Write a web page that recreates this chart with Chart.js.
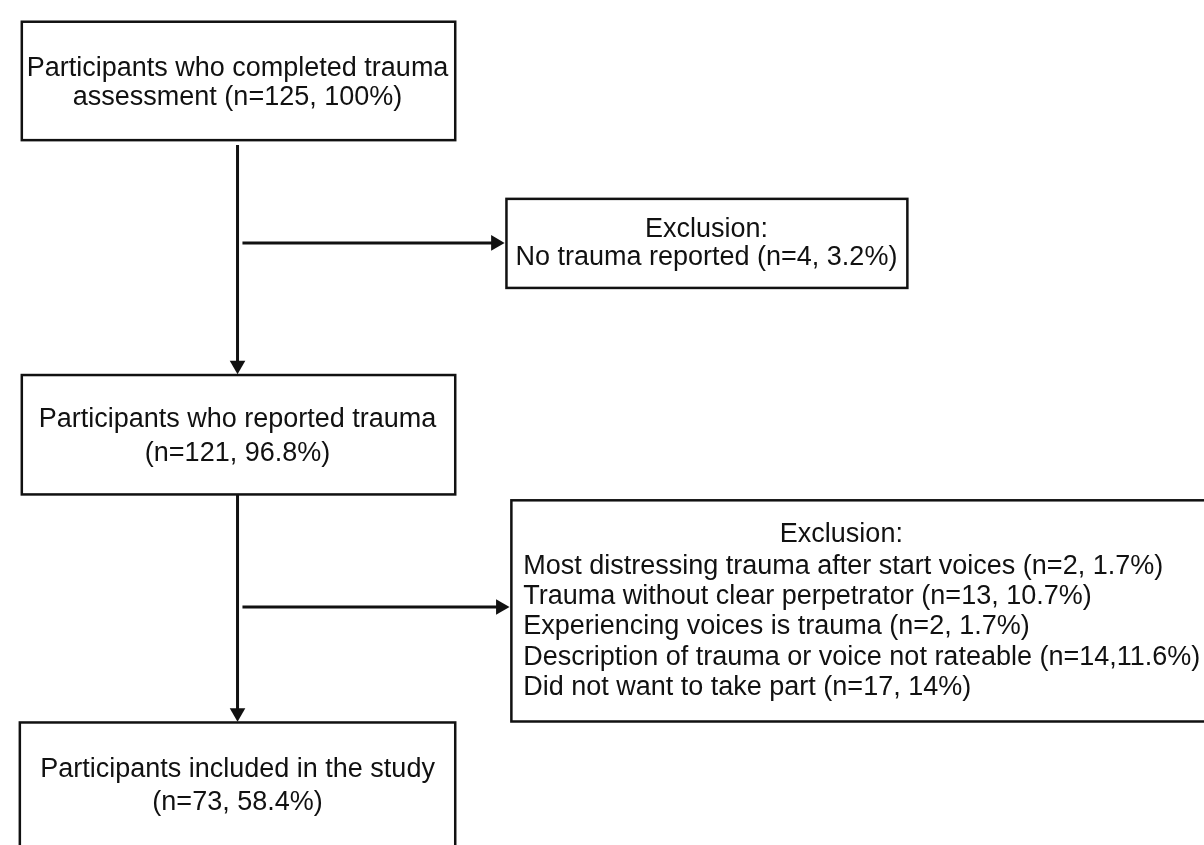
<!DOCTYPE html>
<html>
<head>
<meta charset="utf-8">
<script src="https://cdn.jsdelivr.net/npm/chart.js@4"></script>
<style>
  html, body { margin: 0; padding: 0; background: #fff; }
  #wrap { width: 1204px; height: 845px; overflow: hidden; }
</style>
</head>
<body>
<div id="wrap"><canvas id="flowChart" width="1204" height="845"></canvas></div>
<script>
// flow text, one array per box (lines as in the figure)
const stage1Lines = ['Participants who completed trauma', 'assessment (n=125, 100%)'];
const stage2Lines = ['Participants who reported trauma', '(n=121, 96.8%)'];
const stage3Lines = ['Participants included in the study', '(n=73, 58.4%)'];
const exclusion1Lines = ['Exclusion:', 'No trauma reported (n=4, 3.2%)'];
const exclusion2Title = 'Exclusion:';
const exclusion2Reasons = [
    'Most distressing trauma after start voices (n=2, 1.7%)',
    'Trauma without clear perpetrator (n=13, 10.7%)',
    'Experiencing voices is trauma (n=2, 1.7%)',
    'Description of trauma or voice not rateable (n=14,11.6%)',
    'Did not want to take part (n=17, 14%)'
];

// layout, in canvas units (the scales run 0..1204 and 0..845)
const layout = {
    boxes: [
        { x0: 13, y0: 13, x1: 453, y1: 134, lines: stage1Lines, align: 'center', cx: 232, baselines: [68, 98] },
        { x0: 505, y0: 194, x1: 912, y1: 285, lines: exclusion1Lines, align: 'center', cx: 708, baselines: [233, 262] },
        { x0: 13, y0: 374, x1: 453, y1: 496, lines: stage2Lines, align: 'center', cx: 232, baselines: [427, 462] },
        { x0: 510, y0: 502, x1: 1215, y1: 728, lines: [exclusion2Title], align: 'center', cx: 845, baselines: [545] },
        { x0: 510, y0: 502, x1: 1215, y1: 728, lines: exclusion2Reasons, align: 'left', cx: 522, baselines: [577, 608, 639, 670, 701], noFrame: true },
        { x0: 11, y0: 729, x1: 453, y1: 870, lines: stage3Lines, align: 'center', cx: 232, baselines: [785, 818] }
    ],
    // connectors: start, end (arrow tip), arrow direction
    arrows: [
        { from: [232, 139], to: [232, 373], dir: 'down' },
        { from: [237, 239], to: [503, 239], dir: 'right' },
        { from: [232, 496], to: [232, 728], dir: 'down' },
        { from: [237, 611], to: [508, 611], dir: 'right' }
    ],
    headR: 9
};

const ink = '#111';
const fontFamily = '"Liberation Sans", Arial, Helvetica, sans-serif';

const datasets = layout.arrows.map(a => {
    const r = layout.headR;
    // centre of the triangle sits r back from the tip
    const hx = a.dir === 'right' ? a.to[0] - r : a.to[0];
    const hy = a.dir === 'down' ? a.to[1] - r : a.to[1];
    return {
        data: [{ x: a.from[0], y: a.from[1] }, { x: hx, y: hy }],
        showLine: true,
        borderColor: ink,
        borderWidth: 3,
        backgroundColor: ink,
        pointBorderWidth: 0,
        pointStyle: 'triangle',
        pointRadius: [0, r],
        rotation: a.dir === 'down' ? 180 : 90,
        clip: false
    };
});

const boxPlugin = {
    id: 'boxPlugin',
    afterDatasetsDraw(chart) {
        const ctx = chart.ctx;
        const xs = chart.scales.x, ys = chart.scales.y;
        ctx.save();
        layout.boxes.forEach(b => {
            const px0 = xs.getPixelForValue(b.x0), px1 = xs.getPixelForValue(b.x1);
            const py0 = ys.getPixelForValue(b.y0), py1 = ys.getPixelForValue(b.y1);
            if (!b.noFrame) {
                ctx.lineWidth = 2.5;
                ctx.strokeStyle = ink;
                ctx.strokeRect(px0, py0, px1 - px0, py1 - py0);
            }
            ctx.fillStyle = ink;
            ctx.font = '27px ' + fontFamily;
            ctx.textAlign = b.align;
            ctx.textBaseline = 'alphabetic';
            b.lines.forEach((t, i) => {
                ctx.fillText(t, xs.getPixelForValue(b.cx), ys.getPixelForValue(b.baselines[i]));
            });
        });
        ctx.restore();
    }
};

const ctx = document.getElementById('flowChart').getContext('2d');
const flowChart = new Chart(ctx, {
    type: 'scatter',
    data: { datasets: datasets },
    options: {
        responsive: false,
        animation: false,
        events: [],
        layout: { padding: 0 },
        plugins: { legend: { display: false }, tooltip: { enabled: false } },
        scales: {
            x: { type: 'linear', min: 0, max: 1204, display: false },
            y: { type: 'linear', min: 0, max: 845, reverse: true, display: false }
        }
    },
    plugins: [boxPlugin]
});
</script>
</body>
</html>
